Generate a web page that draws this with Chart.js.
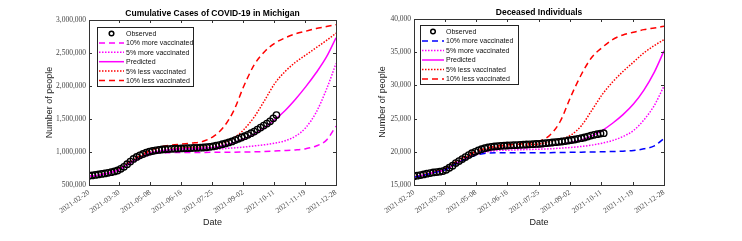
<!DOCTYPE html>
<html>
<head>
<meta charset="utf-8">
<script src="https://cdn.jsdelivr.net/npm/chart.js@4.4.1/dist/chart.umd.min.js"></script>
<style>
  body { margin: 0; background: #fff; }
  .wrap { position: absolute; top: 0; width: 371px; height: 241px; }
</style>
</head>
<body>
<div class="wrap" style="left:0"><canvas id="casesChart" width="371" height="241"></canvas></div>
<div class="wrap" style="left:371px"><canvas id="deathsChart" width="371" height="241"></canvas></div>
<script>
// x axis tick dates (day 0 = 2021-02-20)
const tickLabels = ["2021-02-20", "2021-03-30", "2021-05-08", "2021-06-16", "2021-07-25",
  "2021-09-02", "2021-10-11", "2021-11-19", "2021-12-28"];

// days of the model curves and of the observed data
const modelDays = [0, 13, 26, 39, 52, 65, 78, 91, 104, 117, 130, 143, 156, 169, 182, 195,
  208, 221, 234, 247, 260, 273, 286, 299, 311];
const obsDays = [0, 4, 8, 12, 16, 20, 24, 28, 32, 36, 40, 44, 48, 52, 56, 60, 64, 68, 72, 76,
  80, 84, 88, 92, 96, 100, 104, 108, 112, 116, 120, 124, 128, 132, 136, 140, 144, 148, 152, 156,
  160, 164, 168, 172, 176, 180, 184, 188, 192, 196, 200, 204, 208, 212, 216, 220, 224, 228, 232, 236];

// cumulative cases (thousands)
const casesObserved = [640, 645, 652, 660, 668, 675, 685, 695, 705, 720, 745, 775, 815, 855, 895,
  925, 950, 970, 990, 1005, 1015, 1025, 1032, 1038, 1042, 1045, 1048, 1050, 1052, 1054, 1056, 1058,
  1060, 1062, 1064, 1066, 1068, 1072, 1078, 1085, 1095, 1105, 1118, 1130, 1145, 1160, 1180, 1200,
  1220, 1240, 1260, 1285, 1310, 1340, 1370, 1400, 1430, 1465, 1510, 1560];
const casesMore10 = [630, 650, 683, 735, 830, 905, 965, 985, 990, 992, 993, 994, 995, 996, 997,
  999, 1002, 1008, 1015, 1022, 1032, 1050, 1090, 1180, 1390];
const casesMore5 = [630, 650, 684, 738, 835, 912, 978, 1005, 1015, 1022, 1028, 1033, 1040, 1050,
  1062, 1075, 1092, 1110, 1135, 1170, 1240, 1370, 1600, 1950, 2340];
const casesPredicted = [630, 650, 685, 740, 840, 920, 990, 1020, 1035, 1045, 1050, 1058, 1070,
  1100, 1140, 1200, 1270, 1370, 1490, 1630, 1800, 1990, 2200, 2440, 2730];
const casesLess5 = [632, 652, 687, 745, 850, 935, 1005, 1035, 1050, 1060, 1068, 1078, 1095, 1135,
  1210, 1340, 1530, 1780, 2040, 2220, 2360, 2470, 2580, 2690, 2800];
const casesLess10 = [633, 655, 690, 750, 860, 950, 1030, 1080, 1105, 1120, 1135, 1160, 1230, 1370,
  1620, 2000, 2320, 2520, 2650, 2730, 2790, 2830, 2870, 2900, 2930];

// deceased individuals (thousands)
const deathsObserved = [16.3, 16.4, 16.5, 16.6, 16.7, 16.8, 16.9, 16.95, 17.0, 17.1, 17.3, 17.6,
  17.9, 18.3, 18.6, 18.9, 19.2, 19.5, 19.8, 20.0, 20.2, 20.4, 20.55, 20.65, 20.75, 20.8, 20.85, 20.9,
  20.92, 20.95, 20.97, 21.0, 21.02, 21.05, 21.08, 21.1, 21.12, 21.15, 21.18, 21.2, 21.25, 21.3, 21.35,
  21.4, 21.45, 21.5, 21.55, 21.62, 21.7, 21.78, 21.85, 21.95, 22.05, 22.15, 22.3, 22.45, 22.55, 22.65,
  22.75, 22.8];
const deathsMore10 = [16.2, 16.5, 16.9, 17.3, 18.2, 18.9, 19.5, 19.8, 19.85, 19.85, 19.85, 19.85,
  19.85, 19.87, 19.9, 19.92, 19.95, 19.98, 20.0, 20.05, 20.1, 20.2, 20.45, 20.9, 22.0];
const deathsMore5 = [16.2, 16.5, 16.9, 17.3, 18.2, 19.0, 19.6, 20.0, 20.2, 20.25, 20.3, 20.35, 20.4,
  20.45, 20.55, 20.65, 20.8, 21.0, 21.3, 21.7, 22.3, 23.2, 24.8, 27.0, 29.9];
const deathsPredicted = [16.2, 16.5, 16.9, 17.3, 18.2, 19.0, 19.7, 20.2, 20.45, 20.55, 20.6, 20.65,
  20.75, 20.9, 21.1, 21.4, 21.8, 22.4, 23.2, 24.3, 25.6, 27.2, 29.3, 32.0, 35.2];
const deathsLess5 = [16.2, 16.55, 16.95, 17.4, 18.3, 19.2, 19.9, 20.4, 20.7, 20.85, 20.95, 21.05,
  21.2, 21.5, 21.9, 22.5, 23.9, 26.2, 28.6, 30.5, 32.1, 33.5, 34.9, 36.0, 36.9];
const deathsLess10 = [16.25, 16.6, 17.0, 17.5, 18.5, 19.4, 20.1, 20.6, 20.9, 21.05, 21.15, 21.3,
  21.6, 22.5, 24.6, 28.3, 31.6, 34.2, 35.7, 36.9, 37.6, 38.0, 38.4, 38.65, 38.9];

const seriesLabels = ["Observed", "10% more vaccinated", "5% more vaccinated", "Predicted",
  "5% less vaccinated", "10% less vaccinated"];

const start = Date.UTC(2021, 1, 20);
const tickDays = tickLabels.map(s => {
  const p = s.split("-").map(Number);
  return Math.round((Date.UTC(p[0], p[1] - 1, p[2]) - start) / 86400000);
});

const pts = (days, vals, scale) => days.map((d, i) => ({ x: d, y: vals[i] * scale }));

function lineSet(label, days, vals, scale, color, dash) {
  return {
    label: label,
    data: pts(days, vals, scale),
    borderColor: color,
    backgroundColor: color,
    borderWidth: 1.5,
    borderDash: dash,
    pointRadius: 0,
    cubicInterpolationMode: "monotone",
    fill: false
  };
}

// frame, inside ticks, title and boxed legend
const framePlugin = {
  id: "frame",
  afterDraw(chart, args, opts) {
    const ctx = chart.ctx;
    const a = chart.chartArea;
    const xs = chart.scales.x, ys = chart.scales.y;
    ctx.save();
    ctx.strokeStyle = "#333";
    ctx.lineWidth = 1;
    ctx.beginPath();
    xs.ticks.forEach(t => {
      const px = Math.round(xs.getPixelForValue(t.value)) + 0.5;
      ctx.moveTo(px, a.bottom); ctx.lineTo(px, a.bottom - 3);
      ctx.moveTo(px, a.top); ctx.lineTo(px, a.top + 3);
    });
    ys.ticks.forEach(t => {
      const py = Math.round(ys.getPixelForValue(t.value)) + 0.5;
      ctx.moveTo(a.left, py); ctx.lineTo(a.left + 3, py);
      ctx.moveTo(a.right, py); ctx.lineTo(a.right - 3, py);
    });
    ctx.stroke();
    ctx.strokeRect(Math.round(a.left) + 0.5, Math.round(a.top) + 0.5,
      Math.round(a.right - a.left), Math.round(a.bottom - a.top));

    // title
    ctx.fillStyle = "#000";
    ctx.font = "bold 8.5px 'Liberation Sans', Arial, sans-serif";
    ctx.textAlign = "center";
    ctx.textBaseline = "middle";
    ctx.fillText(opts.title, (a.left + a.right) / 2, opts.titleY);

    // legend
    const L = opts.legend;
    const bx = a.left + L.dx, by = a.top + L.dy;
    ctx.fillStyle = "#fff";
    ctx.fillRect(bx, by, L.w, L.h);
    ctx.strokeStyle = "#222";
    ctx.strokeRect(Math.round(bx) + 0.5, Math.round(by) + 0.5, L.w, L.h);
    ctx.font = "7px 'Liberation Sans', Arial, sans-serif";
    ctx.textAlign = "left";
    chart.data.datasets.forEach((ds, i) => {
      const cy = by + L.first + i * L.step;
      const x0 = bx + 2, x1 = bx + 2 + L.sample;
      if (ds.showLine === false) {
        ctx.beginPath();
        ctx.strokeStyle = "#000";
        ctx.lineWidth = 1.5;
        ctx.setLineDash([]);
        ctx.arc((x0 + x1) / 2, cy, 2.3, 0, Math.PI * 2);
        ctx.stroke();
      } else {
        ctx.beginPath();
        ctx.strokeStyle = ds.borderColor;
        ctx.lineWidth = 1.5;
        ctx.setLineDash(ds.borderDash || []);
        ctx.moveTo(x0, cy); ctx.lineTo(x1, cy);
        ctx.stroke();
        ctx.setLineDash([]);
      }
      ctx.fillStyle = "#111";
      ctx.fillText(ds.label, x1 + 2, cy + 0.5);
    });
    ctx.restore();
  }
};

function makeChart(id, o) {
  const datasets = [
    {
      label: seriesLabels[0],
      data: pts(obsDays, o.observed, o.scale),
      showLine: false,
      pointStyle: "circle",
      pointRadius: 3.2,
      pointBorderWidth: 1.4,
      borderColor: "#000",
      backgroundColor: "rgba(0,0,0,0)"
    },
    lineSet(seriesLabels[1], modelDays, o.more10, o.scale, o.more10Color, [6, 4]),
    lineSet(seriesLabels[2], modelDays, o.more5, o.scale, "#ff00ff", [1.5, 1.5]),
    lineSet(seriesLabels[3], modelDays, o.predicted, o.scale, "#ff00ff", []),
    lineSet(seriesLabels[4], modelDays, o.less5, o.scale, "#ff0000", [1.5, 1.5]),
    lineSet(seriesLabels[5], modelDays, o.less10, o.scale, "#ff0000", [6, 4])
  ];
  return new Chart(document.getElementById(id), {
    type: "line",
    data: { datasets: datasets },
    plugins: [framePlugin],
    options: {
      responsive: false,
      animation: false,
      layout: { padding: { left: o.padLeft, right: o.padRight, top: o.padTop, bottom: 13 } },
      plugins: {
        legend: { display: false },
        tooltip: { enabled: false },
        frame: { title: o.title, titleY: o.titleY, legend: o.legend }
      },
      scales: {
        x: {
          type: "linear",
          min: 0,
          max: 311,
          grid: { display: false, drawTicks: false, tickLength: 0 },
          border: { display: false },
          afterBuildTicks: s => { s.ticks = tickDays.map(v => ({ value: v })); },
          afterFit: s => { s.height = 43; },
          ticks: {
            autoSkip: false,
            minRotation: 35,
            maxRotation: 35,
            padding: 3,
            color: "#444",
            font: { family: "'Liberation Serif', serif", size: 7.5 },
            callback: (v, i) => tickLabels[i]
          },
          title: {
            display: true,
            text: "Date",
            color: "#222",
            font: { family: "'Liberation Sans', Arial, sans-serif", size: 9 },
            padding: { top: 0, bottom: 0 }
          }
        },
        y: {
          min: o.yMin,
          max: o.yMax,
          grid: { display: false, drawTicks: false, tickLength: 0 },
          border: { display: false },
          afterFit: s => { s.width = o.yWidth; },
          ticks: {
            stepSize: o.yStep,
            padding: 3,
            color: "#444",
            font: { family: "'Liberation Serif', serif", size: 7.5 },
            callback: v => v.toLocaleString("en-US")
          },
          title: {
            display: true,
            text: "Number of people",
            color: "#222",
            font: { family: "'Liberation Sans', Arial, sans-serif", size: 9 },
            padding: { top: 0, bottom: 2 }
          }
        }
      }
    }
  });
}

makeChart("casesChart", {
  title: "Cumulative Cases of COVID-19 in Michigan",
  titleY: 13.5,
  scale: 1000,
  observed: casesObserved, more10: casesMore10, more5: casesMore5,
  predicted: casesPredicted, less5: casesLess5, less10: casesLess10,
  more10Color: "#ff00ff",
  yMin: 500000, yMax: 3000000, yStep: 500000,
  padLeft: 44, padRight: 35, padTop: 20, yWidth: 45,
  legend: { dx: 8, dy: 7, w: 96, h: 59, first: 6.5, step: 9.4, sample: 25 }
});

makeChart("deathsChart", {
  title: "Deceased Individuals",
  titleY: 12.5,
  scale: 1000,
  observed: deathsObserved, more10: deathsMore10, more5: deathsMore5,
  predicted: deathsPredicted, less5: deathsLess5, less10: deathsLess10,
  more10Color: "#0000ff",
  yMin: 15000, yMax: 40000, yStep: 5000,
  padLeft: 6, padRight: 78, padTop: 19, yWidth: 37,
  legend: { dx: 6, dy: 6, w: 98, h: 59, first: 6.5, step: 9.5, sample: 22 }
});
</script>
</body>
</html>
